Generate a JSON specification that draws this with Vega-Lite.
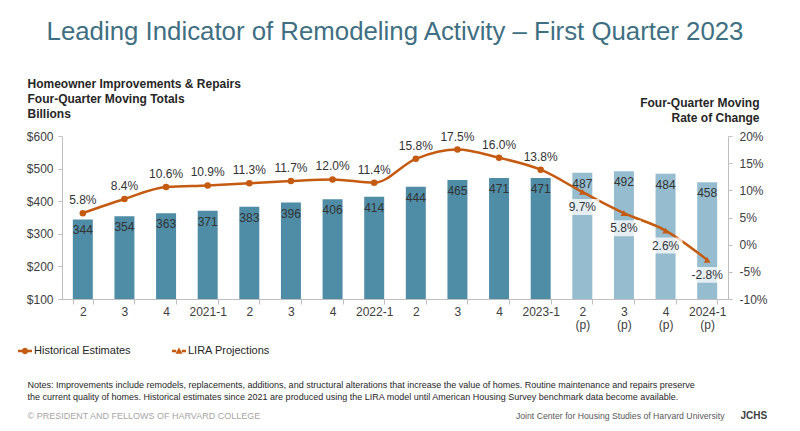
{
  "$schema": "https://vega.github.io/schema/vega-lite/v6.json",
  "width": 666,
  "height": 163,
  "autosize": {"type": "none"},
  "padding": {"left": 62, "top": 136, "right": 72, "bottom": 132},
  "background": "white",
  "config": {
    "font": "Liberation Sans",
    "view": {"stroke": null},
    "axis": {"labelFont": "Liberation Sans", "titleFont": "Liberation Sans", "labelOverlap": false, "labelFlush": false},
    "axisY": {"labelOverlap": false},
    "axisQuantitative": {"labelOverlap": false}
  },
  "title": {
    "text": "Leading Indicator of Remodeling Activity – First Quarter 2023",
    "fontSize": 25.8,
    "fontWeight": "normal",
    "color": "#3f6f82",
    "anchor": "middle",
    "frame": "group",
    "baseline": "alphabetic",
    "offset": 12
  },
  "data": {
    "values": [
      {"q": "2020-2", "amount": 344, "rate": 5.8, "rateLabel": "5.8%", "type": "Historical Estimates"},
      {"q": "2020-3", "amount": 354, "rate": 8.4, "rateLabel": "8.4%", "type": "Historical Estimates"},
      {"q": "2020-4", "amount": 363, "rate": 10.6, "rateLabel": "10.6%", "type": "Historical Estimates"},
      {"q": "2021-1", "amount": 371, "rate": 10.9, "rateLabel": "10.9%", "type": "Historical Estimates"},
      {"q": "2021-2", "amount": 383, "rate": 11.3, "rateLabel": "11.3%", "type": "Historical Estimates"},
      {"q": "2021-3", "amount": 396, "rate": 11.7, "rateLabel": "11.7%", "type": "Historical Estimates"},
      {"q": "2021-4", "amount": 406, "rate": 12.0, "rateLabel": "12.0%", "type": "Historical Estimates"},
      {"q": "2022-1", "amount": 414, "rate": 11.4, "rateLabel": "11.4%", "type": "Historical Estimates"},
      {"q": "2022-2", "amount": 444, "rate": 15.8, "rateLabel": "15.8%", "type": "Historical Estimates"},
      {"q": "2022-3", "amount": 465, "rate": 17.5, "rateLabel": "17.5%", "type": "Historical Estimates"},
      {"q": "2022-4", "amount": 471, "rate": 16.0, "rateLabel": "16.0%", "type": "Historical Estimates"},
      {"q": "2023-1", "amount": 471, "rate": 13.8, "rateLabel": "13.8%", "type": "Historical Estimates"},
      {"q": "2023-2 (p)", "amount": 487, "rate": 9.7, "rateLabel": "9.7%", "type": "LIRA Projections"},
      {"q": "2023-3 (p)", "amount": 492, "rate": 5.8, "rateLabel": "5.8%", "type": "LIRA Projections"},
      {"q": "2023-4 (p)", "amount": 484, "rate": 2.6, "rateLabel": "2.6%", "type": "LIRA Projections"},
      {"q": "2024-1 (p)", "amount": 458, "rate": -2.8, "rateLabel": "-2.8%", "type": "LIRA Projections"}
    ]
  },
  "layer": [
    {
      "encoding": {
        "x": {
          "field": "q", "type": "ordinal", "sort": null,
          "scale": {"paddingInner": 0.52, "paddingOuter": 0.26},
          "axis": {
            "orient": "bottom",
            "title": [
              "Notes: Improvements include remodels, replacements, additions, and structural alterations that increase the value of homes. Routine maintenance and repairs preserve",
              "the current quality of homes. Historical estimates since 2021 are produced using the LIRA model until American Housing Survey benchmark data become available."
            ],
            "titleX": -35, "titleY": 88, "titleAlign": "left", "titleAnchor": "start",
            "titleBaseline": "alphabetic", "titleFontSize": 9, "titleFontWeight": "normal",
            "titleColor": "#262626", "titleLineHeight": 12,
            "labelAngle": 0, "labelOverlap": false,
            "labelExpr": "substring(datum.label, 4, 6) == '-1' ? split(datum.label, ' ') : split(substring(datum.label, 5), ' ')",
            "labelFontSize": 12, "labelColor": "#404040", "labelPadding": 2, "labelLineHeight": 13,
            "labelBaseline": "top",
            "tickBand": "extent", "tickSize": 5, "tickColor": "#bfbfbf", "domainColor": "#bfbfbf"
          }
        },
        "y": {
          "field": "amount", "type": "quantitative",
          "scale": {"domain": [100, 600]},
          "axis": {
            "orient": "left",
            "values": [100, 200, 300, 400, 500, 600],
            "labelExpr": "'$' + datum.value",
            "labelOverlap": false, "labelFlush": false,
            "title": ["Homeowner Improvements & Repairs", "Four-Quarter Moving Totals", "Billions"],
            "titleAngle": 0, "titleX": -35, "titleY": -48.5, "titleAlign": "left", "titleAnchor": "start",
            "titleBaseline": "alphabetic", "titleFontSize": 12, "titleFontWeight": "bold",
            "titleColor": "#262626", "titleLineHeight": 15,
            "grid": false, "tickSize": 4, "labelPadding": 5,
            "domainColor": "#bfbfbf", "tickColor": "#bfbfbf",
            "labelFontSize": 12, "labelColor": "#404040"
          }
        }
      },
      "layer": [
        {
          "transform": [{"filter": "datum.type === 'Historical Estimates'"}],
          "mark": {"type": "bar", "color": "#4f8ca6"},
          "encoding": {"y2": {"datum": 100}}
        },
        {
          "transform": [{"filter": "datum.type === 'LIRA Projections'"}],
          "mark": {"type": "bar", "color": "#96bdcf"},
          "encoding": {"y2": {"datum": 100}}
        },
        {
          "mark": {"type": "text", "dy": 11, "baseline": "middle", "fontSize": 12, "color": "#333333"},
          "encoding": {"text": {"field": "amount"}}
        }
      ]
    },
    {
      "encoding": {
        "x": {"field": "q", "type": "ordinal", "sort": null, "axis": null},
        "y": {
          "field": "rate", "type": "quantitative",
          "scale": {"domain": [-10, 20]},
          "axis": {
            "orient": "right",
            "values": [-10, -5, 0, 5, 10, 15, 20],
            "labelExpr": "datum.value + '%'",
            "labelOverlap": false, "labelFlush": false,
            "title": ["Four-Quarter Moving", "Rate of Change"],
            "titleAngle": 0, "titleX": 31, "titleY": -30, "titleAlign": "right", "titleAnchor": "end",
            "titleBaseline": "alphabetic", "titleFontSize": 12, "titleFontWeight": "bold",
            "titleColor": "#262626", "titleLineHeight": 15,
            "grid": false, "tickSize": 4, "labelPadding": 7,
            "domainColor": "#bfbfbf", "tickColor": "#bfbfbf",
            "labelFontSize": 12, "labelColor": "#404040"
          }
        }
      },
      "layer": [
        {
          "mark": {"type": "line", "color": "#c55a11", "strokeWidth": 2.5, "interpolate": "monotone"}
        },
        {
          "transform": [{"filter": "datum.type === 'Historical Estimates'"}],
          "mark": {"type": "point", "shape": "circle", "filled": true, "color": "#c55a11", "size": 42, "opacity": 1}
        },
        {
          "transform": [{"filter": "datum.type === 'LIRA Projections'"}],
          "mark": {"type": "point", "shape": "triangle-up", "filled": true, "color": "#c55a11", "size": 45, "opacity": 1}
        },
        {
          "mark": {"type": "point", "filled": true, "color": "#c55a11", "opacity": 0},
          "encoding": {
            "shape": {
              "field": "type", "type": "nominal",
              "scale": {
                "domain": ["Historical Estimates", "LIRA Projections"],
                "range": [
                  "M-1,-0.17H-0.4V0.17H-1Z M0.4,-0.17H1V0.17H0.4Z M0.45,0A0.45,0.45,0,1,1,-0.45,0A0.45,0.45,0,1,1,0.45,0Z",
                  "M-1,-0.17H-0.4V0.17H-1Z M0.4,-0.17H1V0.17H0.4Z M0,-0.5L0.5,0.38L-0.5,0.38Z"
                ]
              },
              "legend": {
                "title": null, "orient": "none", "legendX": -44, "legendY": 208,
                "direction": "horizontal", "symbolSize": 196, "symbolOpacity": 1,
                "symbolFillColor": "#c55a11", "symbolStrokeWidth": 0,
                "labelFontSize": 11, "labelColor": "#262626", "labelFont": "Liberation Sans",
                "columnPadding": 41, "labelOffset": 2
              }
            }
          }
        },
        {
          "transform": [{"filter": "datum.type === 'LIRA Projections'"}],
          "mark": {"type": "point", "shape": "M-1,-0.47H1V0.47H-1Z", "size": 1156, "filled": true, "color": "white", "opacity": 0.75, "yOffset": 15}
        },
        {
          "transform": [{"filter": "datum.type === 'Historical Estimates'"}],
          "mark": {"type": "text", "dy": -13, "baseline": "middle", "fontSize": 12, "color": "#333333"},
          "encoding": {"text": {"field": "rateLabel"}}
        },
        {
          "transform": [{"filter": "datum.type === 'LIRA Projections'"}],
          "mark": {"type": "text", "dy": 15, "baseline": "middle", "fontSize": 12, "color": "#333333"},
          "encoding": {"text": {"field": "rateLabel"}}
        }
      ]
    },
    {
      "mark": {"type": "point", "opacity": 0},
      "encoding": {
        "x": {
          "field": "q", "type": "ordinal", "sort": null,
          "axis": {
            "orient": "top", "title": "© PRESIDENT AND FELLOWS OF HARVARD COLLEGE",
            "titleX": -35, "titleY": 282, "titleAlign": "left", "titleAnchor": "start",
            "titleBaseline": "alphabetic", "titleFontSize": 9, "titleFontWeight": "normal",
            "titleColor": "#a6a6a6", "labels": false, "ticks": false, "domain": false
          }
        },
        "y": {
          "field": "rate", "type": "quantitative",
          "axis": {
            "orient": "right", "title": "Joint Center for Housing Studies of Harvard University",
            "titleAngle": 0, "titleX": -4, "titleY": 282, "titleAlign": "right", "titleAnchor": "end",
            "titleBaseline": "alphabetic", "titleFontSize": 8.7, "titleFontWeight": "normal",
            "titleColor": "#595959", "labels": false, "ticks": false, "domain": false, "grid": false
          }
        }
      }
    },
    {
      "mark": {"type": "point", "opacity": 0},
      "encoding": {
        "x": {"field": "q", "type": "ordinal", "sort": null, "axis": null},
        "y": {
          "field": "amount", "type": "quantitative",
          "axis": {
            "orient": "left", "title": "JCHS",
            "titleAngle": 0, "titleX": 678, "titleY": 282, "titleAlign": "left", "titleAnchor": "start",
            "titleBaseline": "alphabetic", "titleFontSize": 10, "titleFontWeight": "bold",
            "titleColor": "#404040", "labels": false, "ticks": false, "domain": false, "grid": false
          }
        }
      }
    }
  ],
  "resolve": {
    "scale": {"y": "independent"},
    "axis": {"x": "independent", "y": "independent"}
  }
}
